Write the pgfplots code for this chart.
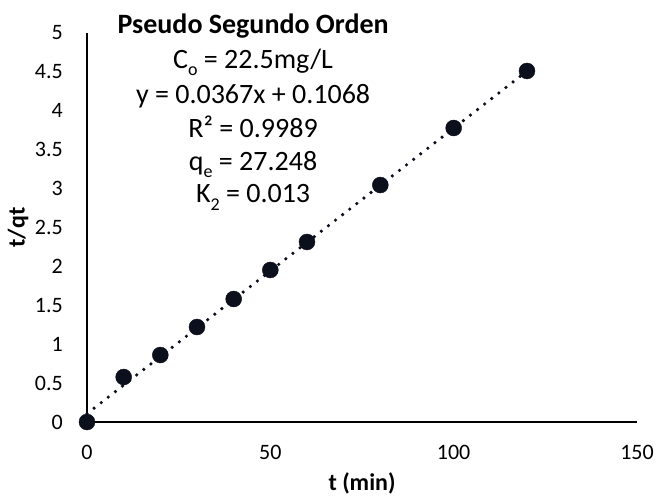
\documentclass[border=0pt]{standalone}
\usepackage{pgfplots}
\pgfplotsset{compat=1.18}
\usepackage{fontspec}
\setmainfont{Carlito}
\definecolor{mk}{RGB}{12,15,28}
\newcommand{\sub}[1]{\raisebox{-0.28em}{\fontsize{18}{20}\selectfont #1}}
\begin{document}
\begin{tikzpicture}
\useasboundingbox (-87pt,-77pt) rectangle (570pt,422pt);
\begin{axis}[
  scale only axis,
  width=550pt, height=389pt,
  xmin=0, xmax=150, ymin=0, ymax=5,
  xtick={0,50,100,150},
  ytick={0,0.5,1,1.5,2,2.5,3,3.5,4,4.5,5},
  axis x line=bottom, axis y line=left,
  axis line style={-, line width=1.4pt, black},
  major tick length=0pt,
  tick label style={font=\fontsize{22}{26}\selectfont, inner sep=0pt},
  /pgf/number format/assume math mode=true,
  xticklabel shift=23pt,
  yticklabel shift=24pt,
  xlabel={\textbf{t (min)}},
  ylabel={\textbf{t/qt}},
  every axis x label/.style={at={(axis description cs:0.5,-0.1748)}, anchor=base, font=\fontsize{24}{28}\selectfont},
  every axis y label/.style={at={(axis description cs:-0.1255,0.5)}, rotate=90, anchor=center, font=\fontsize{24}{28}\selectfont},
  clip=false,
]
\addplot[mk, line width=3.6pt, line cap=round, dash pattern=on 0pt off 9pt] coordinates {(0,0.1068) (120,4.5108)};
\addplot[only marks, mark=*, mark size=8pt, mark options={fill=mk, draw=mk}] coordinates {
(0,0) (10,0.578) (20,0.861) (30,1.221) (40,1.581) (50,1.954) (60,2.314) (80,3.046) (100,3.779) (120,4.512)};
\begin{scope}[font=\fontsize{28}{32}\selectfont]
\node[anchor=base] at (axis cs:45.3,5.0) {\textbf{Pseudo Segundo Orden}};
\node[anchor=base] at (axis cs:45.3,4.550) {C\sub{o} = 22.5mg/L};
\node[anchor=base] at (axis cs:45.3,4.100) {y = 0.0367x + 0.1068};
\node[anchor=base] at (axis cs:45.3,3.663) {R² = 0.9989};
\node[anchor=base] at (axis cs:45.3,3.239) {q\sub{e} = 27.248};
\node[anchor=base] at (axis cs:45.3,2.815) {K\sub{2} = 0.013};
\end{scope}
\end{axis}
\end{tikzpicture}
\end{document}
